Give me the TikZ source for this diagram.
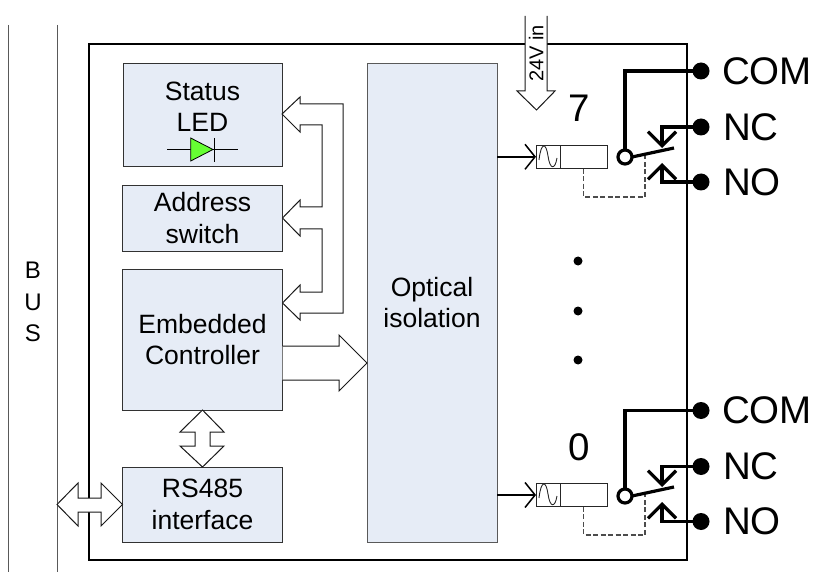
\documentclass[tikz,border=0pt]{standalone}
\usepackage{fontspec}
\setmainfont{Liberation Sans}
\usetikzlibrary{arrows.meta, positioning, calc}
\definecolor{boxfill}{RGB}{230,236,246}
\definecolor{boxline}{RGB}{50,50,50}
\definecolor{ledgreen}{RGB}{102,255,51}
\begin{document}
\begin{tikzpicture}[x=1pt, y=-1pt, every node/.style={inner sep=0pt, outer sep=0pt}]
\tikzset{blk/.style={draw=boxline, line width=0.9pt, fill=boxfill, align=center, font=\fontsize{26.5}{31.5}\selectfont},
  blockarrow/.style={draw=black!90, line width=1pt, fill=white, line join=miter},
  term/.style={circle, fill=black, minimum size=17pt},
  termtxt/.style={anchor=west, font=\fontsize{38.5}{38.5}\selectfont},
  chtxt/.style={font=\fontsize{38.5}{38.5}\selectfont},
  wire/.style={line width=3.2pt, line join=miter},
  cpl/.style={draw=black!85, line width=1pt, minimum height=23.5pt},
  pivot/.style={circle, draw, line width=3.2pt, fill=white, minimum size=14pt},
  dots/.style={circle, fill=black, minimum size=9pt}}
\useasboundingbox (0,0) rectangle (814,572);
\node[draw=black, line width=2.7pt, minimum width=598pt, minimum height=516pt] (mainbox) at (388,302) {};
\coordinate (bus1top) at (8.5,25); \coordinate (bus1bot) at (8.5,572);
\coordinate (bus2top) at (57,25); \coordinate (bus2bot) at (57,572);
\draw[draw=black!65, line width=1pt] (bus1top) -- (bus1bot);
\draw[draw=black!65, line width=1pt] (bus2top) -- (bus2bot);
\node[align=center, font=\fontsize{24}{31.5}\selectfont] (bus) at (33,302) {B\\U\\S};
\node[blk, minimum width=159pt, minimum height=103pt] (led) at (202.5,114.5) {};
\node[font=\fontsize{26.5}{31.5}\selectfont, align=center] (ledtxt) at (202.5,107) {Status\\LED};
\node[blk, minimum width=160pt, minimum height=66pt] (addr) at (202.5,218) {Address\\switch};
\node[blk, minimum width=160pt, minimum height=141pt] (ctrl) at (202.5,339.5) {Embedded\\Controller};
\node[blk, minimum width=160pt, minimum height=75pt] (rs) at (202.5,504.5) {RS485\\interface};
\node[blk, draw=black!65, minimum width=130pt, minimum height=479pt] (opto) at (432,302.5) {Optical\\isolation};
\draw[line width=0.8pt] (167,149.5) -- (238,149.5);
\draw[line width=0.8pt, fill=ledgreen] (190.7,138) -- (213,149.5) -- (190.7,161) -- cycle;
\draw[line width=0.8pt] (214,138) -- (214,162);
\draw[blockarrow] (led.east |- 0,114) -- (300,97) -- (300,104) -- (343,104) -- (343,313) -- (300,313) -- (300,320) -- (ctrl.east |- 0,303) -- (300,285) -- (300,292) -- (322,292) -- (322,229) -- (300,229) -- (300,236) -- (addr.east) -- (300,200) -- (300,207) -- (322,207) -- (322,125) -- (300,125) -- (300,132) -- cycle;
\draw[blockarrow] (ctrl.east |- 0,346) -- (339,346) -- (339,335) -- (opto.west |- 0,363) -- (339,391) -- (339,380) -- (ctrl.east |- 0,380);
\draw[blockarrow] (ctrl.south) -- (224,432) -- (210,432) -- (210,446) -- (224,446) -- (rs.north) -- (180,446) -- (195,446) -- (195,432) -- (180,432) -- cycle;
\draw[blockarrow] (bus2top |- rs.west) -- (78,483) -- (78,498) -- (101,498) -- (101,483) -- (rs.west) -- (101,526) -- (101,512) -- (78,512) -- (78,526) -- cycle;
\draw[blockarrow] (525,16) -- (525,91) -- (517,91) -- (536.5,110) -- (555,91) -- (547,91) -- (547,16);
\node[rotate=90, font=\fontsize{20}{20}\selectfont] (vin) at (536,53.5) {24V in};
\node[chtxt] (ch7) at (579,108) {7};
\node[cpl, minimum width=24pt] (coila7) at (548,156.8) {};
\node[cpl, minimum width=47.5pt, right=0pt of coila7] (coilb7) {};
\draw[black!85, line width=0.9pt] (539,160) .. controls (541,142) and (546,142) .. (548,156) .. controls (550,170) and (555,170) .. (557,158);
\draw[-{Straight Barb[length=10pt,width=25pt]}, line width=1.5pt] (opto.east |- coila7.west) -- (coila7.west);
\node[term] (com7) at (701,71) {};
\node[term] (nc7) at (701,127) {};
\node[term] (no7) at (701,182) {};
\node[termtxt] (comtxt7) at (722,71) {COM};
\node[termtxt] (nctxt7) at (723,127) {NC};
\node[termtxt] (notxt7) at (723,182) {NO};
\coordinate (dash7) at (645,155);
\coordinate (armend7) at (674,148);
\coordinate (ncend7) at (662,148);
\coordinate (noend7) at (662,163);
\node[pivot] (piv7) at (625,157) {};
\draw[draw=black!70, dash pattern=on 5pt off 2.5pt, line width=1.1pt] (coilb7.south) |- (645,197) -- (dash7);
\draw[wire] (com7.center) -| (piv7.north);
\draw[wire, -{Straight Barb[length=14pt,width=28pt]}] (nc7.center) -| (ncend7);
\draw[wire, -{Straight Barb[length=14pt,width=28pt]}] (no7.center) -| (noend7);
\draw[wire] (piv7.east) -- (armend7);
\node[dots] (dota) at (578,261) {};
\node[dots] (dotb) at (578,311) {};
\node[dots] (dotc) at (578,360) {};
\node[chtxt] (ch0) at (579,447) {0};
\node[cpl, minimum width=24pt] (coila0) at (548,495) {};
\node[cpl, minimum width=47.5pt, right=0pt of coila0] (coilb0) {};
\draw[black!85, line width=0.9pt] (539,498) .. controls (541,480) and (546,480) .. (548,494) .. controls (550,508) and (555,508) .. (557,496);
\draw[-{Straight Barb[length=10pt,width=25pt]}, line width=1.5pt] (opto.east |- coila0.west) -- (coila0.west);
\node[term] (com0) at (701,410.5) {};
\node[term] (nc0) at (701,466.5) {};
\node[term] (no0) at (701,521.5) {};
\node[termtxt] (comtxt0) at (722,410.5) {COM};
\node[termtxt] (nctxt0) at (723,466.5) {NC};
\node[termtxt] (notxt0) at (723,521.5) {NO};
\coordinate (dash0) at (645,494);
\coordinate (armend0) at (674,487);
\coordinate (ncend0) at (662,487);
\coordinate (noend0) at (662,502);
\node[pivot] (piv0) at (625,496) {};
\draw[draw=black!70, dash pattern=on 5pt off 2.5pt, line width=1.1pt] (coilb0.south) |- (645,535) -- (dash0);
\draw[wire] (com0.center) -| (piv0.north);
\draw[wire, -{Straight Barb[length=14pt,width=28pt]}] (nc0.center) -| (ncend0);
\draw[wire, -{Straight Barb[length=14pt,width=28pt]}] (no0.center) -| (noend0);
\draw[wire] (piv0.east) -- (armend0);
\end{tikzpicture}
\end{document}
